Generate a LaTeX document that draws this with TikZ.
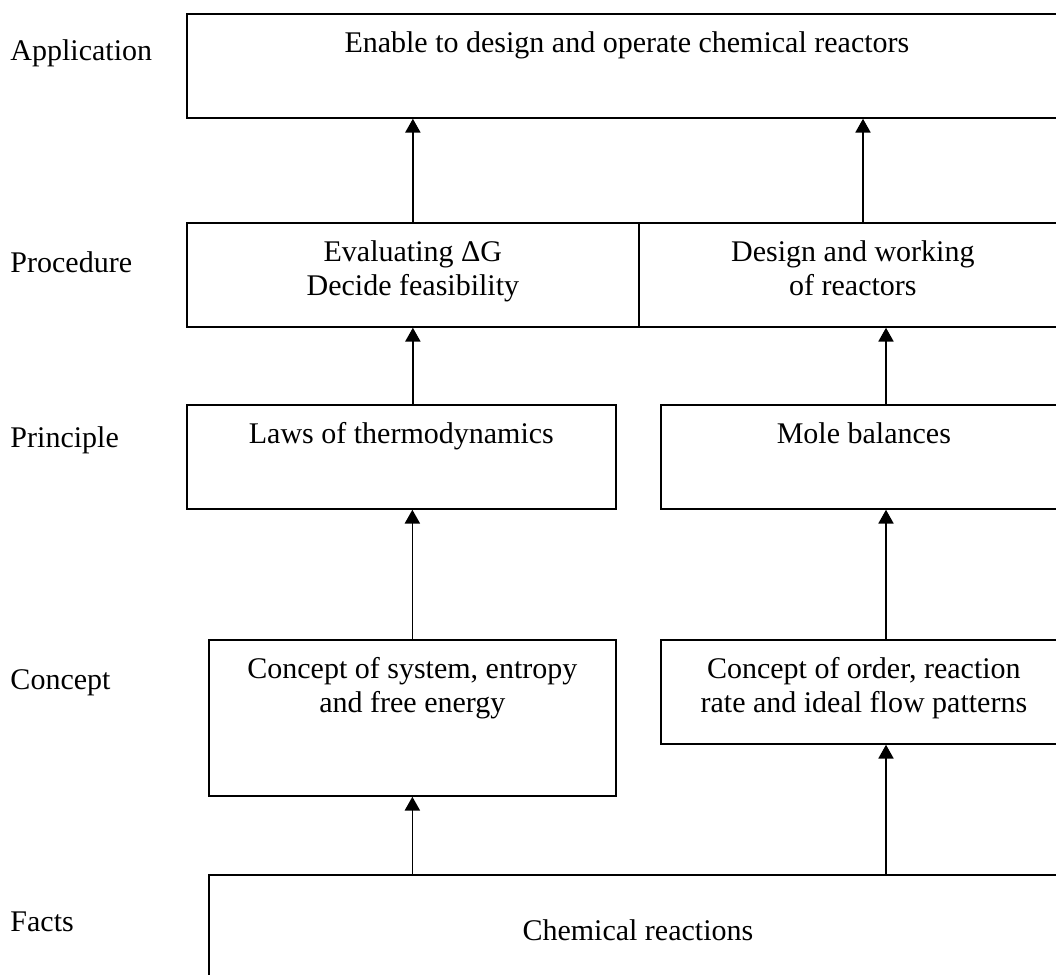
\documentclass[tikz,border=0pt]{standalone}
\usepackage{fontspec}
\setmainfont{Liberation Serif}
\usetikzlibrary{arrows.meta,positioning}
\begin{document}
\begin{tikzpicture}[x=0.4pt,y=-0.4pt,>={Triangle[width=6pt,length=5.5pt]},
  box/.style={draw,line width=0.7pt,inner sep=0pt,anchor=north west},
  txt/.style={anchor=base,align=center,inner sep=0pt,yshift=-15.6pt,
    font=\fontsize{12}{13.6}\selectfont},
  twolines/.style={yshift=-13.6pt},
  level/.style={anchor=base west,inner sep=0pt,font=\fontsize{12}{13.6}\selectfont},
  up/.style={->,line width=0.7pt}]
\clip (0,0) rectangle (1056,975);
% levels
\node[level] (lapp)  at (10,60)  {Application};
\node[level] (lproc) at (10,272) {Procedure};
\node[level] (lprin) at (10,447) {Principle};
\node[level] (lconc) at (10,689) {Concept};
\node[level] (lfact) at (10,931) {Facts};
% boxes
\node[box,minimum width=880*0.4pt,minimum height=104*0.4pt] (app)   at (186,13)  {};
\node[box,minimum width=452*0.4pt,minimum height=104*0.4pt] (procL) at (186,222) {};
\node[box,minimum width=428*0.4pt,minimum height=104*0.4pt] (procR) at (638,222) {};
\node[box,minimum width=429*0.4pt,minimum height=104*0.4pt] (prinL) at (186,404) {};
\node[box,minimum width=406*0.4pt,minimum height=104*0.4pt] (prinR) at (660,404) {};
\node[box,minimum width=407*0.4pt,minimum height=156*0.4pt] (concL) at (208,639) {};
\node[box,minimum width=406*0.4pt,minimum height=104*0.4pt] (concR) at (660,639) {};
\node[box,minimum width=858*0.4pt,minimum height=104*0.4pt] (facts) at (208,874) {};
% texts
\node[txt] (appT)   at (app.north)   {Enable to design and operate chemical reactors};
\node[txt,twolines] (procLT) at (procL.north) {Evaluating ΔG\\Decide feasibility};
\node[txt,twolines] (procRT) at (procR.north) {Design and working\\of reactors};
\node[txt] (prinLT) at (prinL.north) {Laws of thermodynamics};
\node[txt] (prinRT) at (prinR.north) {Mole balances};
\node[txt,twolines] (concLT) at (concL.north) {Concept of system, entropy\\and free energy};
\node[txt,twolines] (concRT) at (concR.north) {Concept of order, reaction\\rate and ideal flow patterns};
\node[txt,yshift=-10.8pt] (factsT) at (facts.north) {Chemical reactions};
% arrows
\coordinate (rcol) at (886,0);
\coordinate (rtop) at (863,0);
\draw[up] (concL.south |- facts.north) -- (concL.south);
\draw[up] (rcol |- facts.north) -- (rcol |- concR.south);
\draw[up] (concL.north) -- (concL.north |- prinL.south);
\draw[up] (rcol |- concR.north) -- (rcol |- prinR.south);
\draw[up] (procL.south |- prinL.north) -- (procL.south);
\draw[up] (rcol |- prinR.north) -- (rcol |- procR.south);
\draw[up] (procL.north) -- (procL.north |- app.south);
\draw[up] (rtop |- procR.north) -- (rtop |- app.south);
\end{tikzpicture}
\end{document}
